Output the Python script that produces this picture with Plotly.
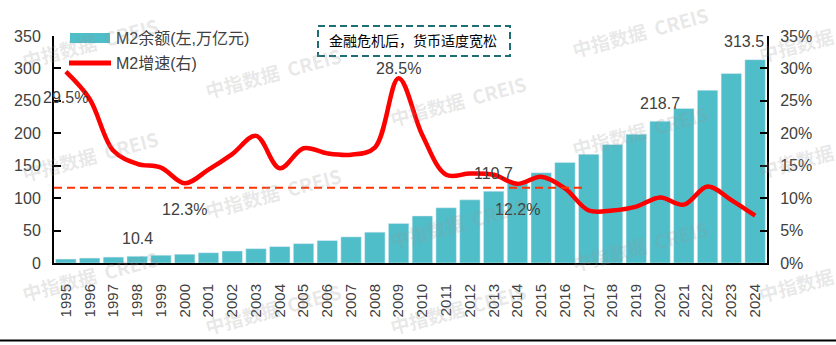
import plotly.graph_objects as go

# Year-end M2 balance (trillion yuan) and year-on-year growth (%)
years = [str(y) for y in range(1995, 2025)]
m2_balance = [6.1, 7.6, 9.1, 10.4, 12.0, 13.5, 15.8, 18.5, 22.1, 25.3,
              29.9, 34.6, 40.3, 47.5, 61.0, 72.6, 85.2, 97.4, 110.7, 122.8,
              139.2, 155.0, 167.7, 182.7, 198.6, 218.7, 238.3, 266.4, 292.3, 313.5]
m2_growth = [29.5, 25.3, 17.3, 15.3, 14.7, 12.3, 14.4, 16.8, 19.6, 14.6,
             17.7, 16.9, 16.7, 17.8, 28.5, 19.7, 13.6, 13.8, 13.6, 12.2,
             13.3, 11.5, 8.1, 8.1, 8.7, 10.1, 9.0, 11.8, 9.7, 7.3]

balance_labels = ["1998", "2013", "2020", "2024"]
growth_labels_below = ["1995", "2000", "2014"]
growth_labels_above = ["2009"]
reference_growth = 11.6
note_text = "金融危机后，货币适度宽松"
watermark = "中指数据  CREIS"
watermark_short = "中指数据"

BAR = "#4FBEC9"
RED = "#FF0000"
FONT = "Liberation Sans, Arial, Noto Sans CJK SC, sans-serif"
TXT = "#404040"

W, H = 836, 345
L, R, T, B = 54, 69, 36, 82
PW, PH = W - L - R, H - T - B


def px(x):
    return (x - L) / PW


def py(y):
    return (H - B - y) / PH


# numeric positions for the yearly categories
xpos = list(range(len(years)))

fig = go.Figure()
fig.add_trace(go.Bar(x=xpos, y=m2_balance, marker_color=BAR, name="M2余额(左,万亿元)",
                     showlegend=False))
fig.add_trace(go.Scatter(x=xpos, y=m2_growth, yaxis="y2", mode="lines",
                         line=dict(color=RED, width=4.5, shape="spline", smoothing=1.0),
                         name="M2增速(右)", showlegend=False))

ann = []
shapes = []

# value labels
for yr in balance_labels:
    i = years.index(yr)
    v = m2_balance[i]
    ann.append(dict(x=i, y=v, xref="x", yref="y", text=f"{v:.1f}", showarrow=False,
                    xanchor="center", yanchor="middle", yshift=18,
                    xshift=-11 if yr == "2024" else 0,
                    font=dict(size=16, color=TXT)))
for yr in growth_labels_below:
    i = years.index(yr)
    v = m2_growth[i]
    ann.append(dict(x=i, y=v, xref="x", yref="y2", text=f"{v:.1f}%", showarrow=False,
                    xanchor="center", yanchor="middle", yshift=-26,
                    font=dict(size=16, color=TXT)))
for yr in growth_labels_above:
    i = years.index(yr)
    v = m2_growth[i]
    ann.append(dict(x=i, y=v, xref="x", yref="y2", text=f"{v:.1f}%", showarrow=False,
                    xanchor="center", yanchor="middle", yshift=10,
                    font=dict(size=16, color=TXT)))

# reference dashed line
shapes.append(dict(type="line", xref="x", yref="y2", x0=-0.5, x1=21.75,
                   y0=reference_growth, y1=reference_growth,
                   line=dict(color="#FF3300", width=2, dash="8px,5px")))

# note box
shapes.append(dict(type="rect", xref="paper", yref="paper",
                   x0=px(318), x1=px(510), y0=py(56), y1=py(26),
                   line=dict(color="#1E6E75", width=2, dash="7px,4px")))
ann.append(dict(x=px(413), y=py(41), xref="paper", yref="paper", text=note_text,
                xanchor="center", yanchor="middle",
                showarrow=False, font=dict(size=14, color="#000000")))

# legend
shapes.append(dict(type="rect", xref="paper", yref="paper", x0=px(70), x1=px(110),
                   y0=py(43), y1=py(33), fillcolor=BAR, line=dict(width=0)))
shapes.append(dict(type="line", xref="paper", yref="paper", x0=px(69), x1=px(111),
                   y0=py(63), y1=py(63), line=dict(color=RED, width=5)))
ann.append(dict(x=px(114), y=py(38), xref="paper", yref="paper", text="M2余额(左,万亿元)",
                xanchor="left", yanchor="middle", showarrow=False,
                font=dict(size=16, color=TXT)))
ann.append(dict(x=px(114), y=py(64), xref="paper", yref="paper", text="M2增速(右)",
                xanchor="left", yanchor="middle", showarrow=False,
                font=dict(size=16, color=TXT)))

# bottom rule
shapes.append(dict(type="line", xref="paper", yref="paper", x0=px(0), x1=px(836),
                   y0=py(340.5), y1=py(340.5), line=dict(color="#000000", width=2)))

# watermarks
marks = [(90, 42, watermark), (90, 155, watermark), (90, 275, watermark),
         (273, 72, watermark), (273, 192, watermark), (273, 308, watermark),
         (458, 100, watermark), (458, 222, watermark), (458, 308, watermark),
         (640, 31, watermark), (640, 130, watermark), (640, 245, watermark),
         (796, 44, watermark_short), (796, 160, watermark_short),
         (796, 284, watermark_short)]
for mx, my, mt in marks:
    ann.append(dict(x=px(mx), y=py(my), xref="paper", yref="paper", text=mt,
                    xanchor="center", yanchor="middle",
                    showarrow=False, textangle=-15,
                    font=dict(size=19, color="rgba(150,150,150,0.22)",
                              family="Noto Sans CJK SC, sans-serif", weight="bold")))

fig.update_layout(
    width=W, height=H,
    margin=dict(l=L, r=R, t=T, b=B),
    paper_bgcolor="white", plot_bgcolor="white",
    font=dict(family=FONT, color=TXT),
    bargap=0.14,
    xaxis=dict(range=[-0.5, len(years) - 0.5], tickvals=xpos, ticktext=years,
               showgrid=False, showline=True, linecolor="#000000", zeroline=False,
               linewidth=2, ticks="", tickangle=-90, tickfont=dict(size=15, color=TXT),
               ticklabelstandoff=13),
    yaxis=dict(range=[0, 350], dtick=50, showgrid=False, showline=True,
               linecolor="#000000", linewidth=2, ticks="inside", ticklen=7,
               tickwidth=2, tickcolor="#000000", tickfont=dict(size=16, color=TXT),
               ticklabelstandoff=8, zeroline=False),
    yaxis2=dict(range=[0, 35], dtick=5, ticksuffix="%", overlaying="y", side="right",
                showgrid=False, showline=True, linecolor="#000000", linewidth=2,
                ticks="inside", ticklen=7, tickwidth=2, tickcolor="#000000",
                tickfont=dict(size=16, color=TXT), ticklabelstandoff=8, zeroline=False),
    annotations=ann,
    shapes=shapes,
)

fig.write_html("out.html")
